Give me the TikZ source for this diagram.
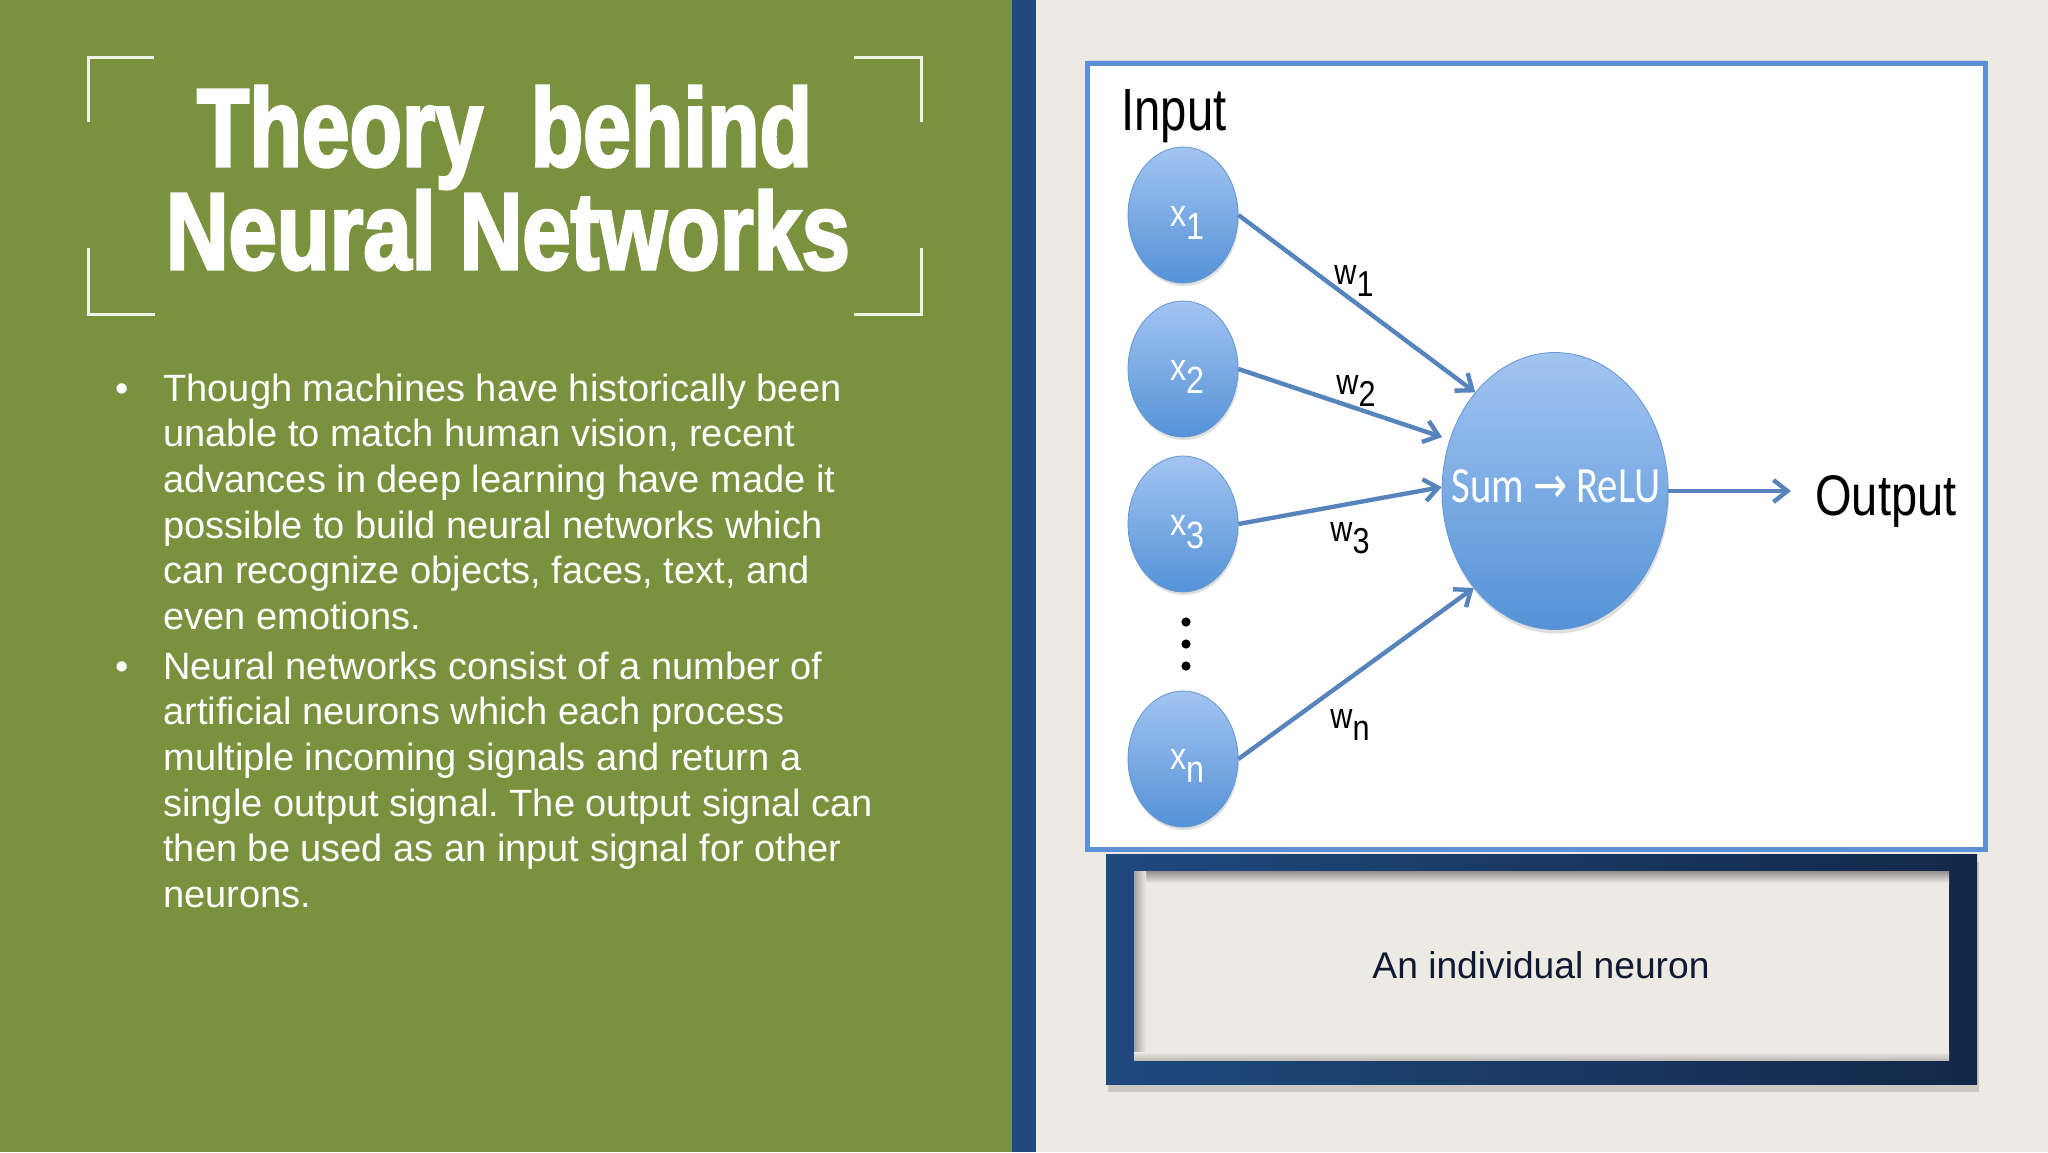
\documentclass[tikz,border=0pt]{standalone}
\usepackage{fontspec}
\setmainfont{Liberation Sans}
\newfontfamily\titlefont{Liberation Sans}[BoldFeatures={FakeBold=3}]
\newfontfamily\calfont{Carlito}
\newfontfamily\dejafont{DejaVu Sans}
\usetikzlibrary{arrows.meta,shadows,shapes.geometric}
\frenchspacing
\definecolor{leafgreen}{RGB}{122,145,62}
\definecolor{navybar}{RGB}{31,73,125}
\definecolor{paper}{RGB}{237,233,227}
\definecolor{framelight}{RGB}{31,74,126}
\definecolor{framedark}{RGB}{19,39,72}
\definecolor{boxblue}{RGB}{91,143,214}
\definecolor{balltop}{RGB}{162,196,241}
\definecolor{ballbot}{RGB}{84,146,215}
\definecolor{balledge}{RGB}{100,150,210}
\definecolor{arrowblue}{RGB}{88,132,190}
\definecolor{captionink}{RGB}{14,26,51}
\definecolor{bracketwhite}{RGB}{240,242,232}
\newcommand\sublab[3]{\scalebox{0.85}[1]{#1\raisebox{-#3}{#2}}}
\tikzset{
  bracket/.style={draw=bracketwhite, line width=1.5pt},
  bodyline/.style={anchor=base west, inner sep=0pt, text=white, font=\fontsize{19pt}{22pt}\selectfont},
  inball/.style={ellipse, minimum width=55pt, minimum height=68pt, inner sep=0pt,
     top color=balltop, bottom color=ballbot, draw=balledge, line width=0.4pt,
     drop shadow={opacity=0.25, shadow xshift=0.5pt, shadow yshift=-1.5pt}},
  xlab/.style={anchor=base west, inner sep=0pt, text=white, font=\fontsize{19pt}{21pt}\selectfont},
  wlab/.style={anchor=base west, inner sep=0pt, text=black, font=\fontsize{18pt}{20pt}\selectfont},
  conn/.style={draw=arrowblue, line width=2.2pt, -{Straight Barb[length=7pt, width=11pt]}},
  dotmark/.style={circle, fill=black, inner sep=0pt, minimum size=4.6pt}
}
\begin{document}
\begin{tikzpicture}[x=0.5pt, y=-0.5pt]
\useasboundingbox (0,0) rectangle (2048,1152);
% backgrounds
\fill[paper] (0,0) rectangle (2048,1152);
\fill[leafgreen] (0,0) rectangle (1012,1152);
\fill[navybar] (1012,0) rectangle (1036,1152);

% brackets
\draw[bracket] (154,57) -- (88,57) -- (88,122);
\draw[bracket] (854,57) -- (921,57) -- (921,122);
\draw[bracket] (88,248) -- (88,314) -- (155,314);
\draw[bracket] (921,248) -- (921,314) -- (854,314);

% title
\node[anchor=base, inner sep=0pt, text=white] (title1) at (504.5,166)
  {\resizebox{307.5pt}{40pt}{\titlefont\bfseries Theory\ \ behind}};
\node[anchor=base, inner sep=0pt, text=white] (title2) at (508,269)
  {\resizebox{342pt}{39.5pt}{\titlefont\bfseries Neural Networks}};

% bullets
\node[bodyline] (b1) at (115,401) {\textbullet};
\node[bodyline] (b2) at (115,679) {\textbullet};
\node[bodyline] (l1) at (163,401) {Though machines have historically been};
\node[bodyline] (l2) at (163,446.7) {unable to match human vision, recent};
\node[bodyline] (l3) at (163,492.4) {advances in deep learning have made it};
\node[bodyline] (l4) at (163,538) {possible to build neural networks which};
\node[bodyline] (l5) at (163,583.8) {can recognize objects, faces, text, and};
\node[bodyline] (l6) at (163,629.5) {even emotions.};
\node[bodyline] (l7) at (163,679) {Neural networks consist of a number of};
\node[bodyline] (l8) at (163,724.7) {artificial neurons which each process};
\node[bodyline] (l9) at (163,770.4) {multiple incoming signals and return a};
\node[bodyline] (l10) at (163,816) {single output signal. The output signal can};
\node[bodyline] (l11) at (163,861.8) {then be used as an input signal for other};
\node[bodyline] (l12) at (163,907.5) {neurons.};

% picture box
\draw[boxblue, line width=2.5pt, fill=white,
  drop shadow={opacity=0.2, shadow xshift=0pt, shadow yshift=2pt}] (1087.5,63.5) rectangle (1985.5,849.5);

% caption frame
\path[left color=framelight, right color=framedark,
  drop shadow={opacity=0.3, shadow xshift=1pt, shadow yshift=-4pt}] (1106,854) rectangle (1977,1084);
\fill[paper] (1134,871) rectangle (1949,1060);
\shade[top color=paper!62!black, bottom color=paper] (1134,871) rectangle (1949,883);
\shade[left color=paper!70!black, right color=paper] (1134,871) rectangle (1146,1060);
\shade[top color=paper, bottom color=paper!80!black] (1134,1052) rectangle (1949,1060);
\node[anchor=base, inner sep=0pt, text=captionink, font=\fontsize{18.6pt}{20pt}\selectfont] (cap) at (1541,978) {An individual neuron};

% neuron diagram
\node[anchor=base west, inner sep=0pt] (inp) at (1121,130) {\resizebox{52.5pt}{20.5pt}{Input}};
\node[inball] (x1) at (1183,215) {};
\node[inball] (x2) at (1183,369) {};
\node[inball] (x3) at (1183,524) {};
\node[inball] (xn) at (1183,759) {};
\node[ellipse, minimum width=113pt, minimum height=138.5pt, inner sep=0pt,
  top color=balltop, bottom color=ballbot, draw=balledge, line width=0.4pt,
  drop shadow={opacity=0.25, shadow xshift=0.5pt, shadow yshift=-2pt}] (sum) at (1555,491) {};

\node[xlab] (x1t) at (1170,226) {\sublab{x}{1}{6.5pt}};
\node[xlab] (x2t) at (1170,380) {\sublab{x}{2}{6.5pt}};
\node[xlab] (x3t) at (1170,535) {\sublab{x}{3}{6.5pt}};
\node[xlab] (xnt) at (1170,769) {\sublab{x}{n}{6.5pt}};

\node[anchor=base west, inner sep=0pt, text=white] (sumt) at (1451,502)
  {\resizebox{104.5pt}{16.5pt}{\calfont Sum {\dejafont →} ReLU}};

\node[anchor=base west, inner sep=0pt] (out) at (1815,515) {\resizebox{70.5pt}{20pt}{Output}};

\node[dotmark] (d1) at (1186,622) {};
\node[dotmark] (d2) at (1186,644) {};
\node[dotmark] (d3) at (1186,666) {};

\draw[conn] (x1.east) -- (sum.129);
\draw[conn, shorten >=4pt] (x2.east) -- (sum.154);
\draw[conn] (x3.east) -- (sum.178.5);
\draw[conn] (xn.east) -- (sum.230.5);
\draw[conn, shorten >=12pt] (sum.east) -- (sum.east -| out.west);

\node[wlab] (w1) at (1334,284) {\sublab{w}{1}{6pt}};
\node[wlab] (w2) at (1336,394) {\sublab{w}{2}{6pt}};
\node[wlab] (w3) at (1330,541) {\sublab{w}{3}{6pt}};
\node[wlab] (wn) at (1330,728) {\sublab{w}{n}{6pt}};
\end{tikzpicture}
\end{document}
